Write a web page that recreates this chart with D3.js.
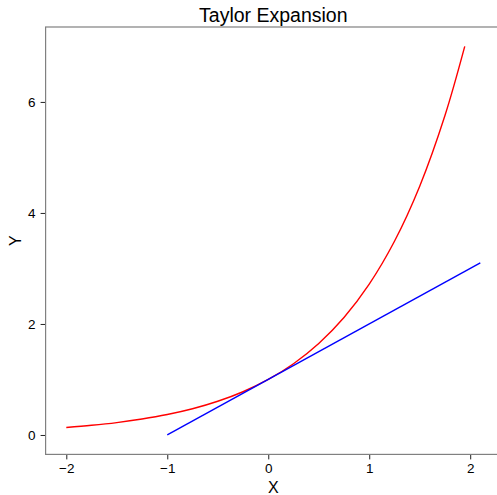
<!DOCTYPE html>
<html>
<head>
<meta charset="utf-8">
<script src="https://cdn.jsdelivr.net/npm/d3@7"></script>
<style>
  body { margin: 0; background: #fff; }
  svg { display: block; font-family: "Liberation Sans", Arial, sans-serif; }
</style>
</head>
<body>
<div id="chart"></div>
<script>
// values
const expX = [-2, -1.75, -1.5, -1.25, -1, -0.75, -0.5, -0.25, 0, 0.25, 0.5, 0.75, 1, 1.25, 1.5, 1.75, 1.946];
const expY = [0.135, 0.174, 0.223, 0.287, 0.368, 0.472, 0.607, 0.779, 1.0, 1.284, 1.649, 2.117, 2.718, 3.49, 4.482, 5.755, 7.0];
const tangentX = [-1, 2.1];
const tangentY = [0, 3.1];
const xTicks = [-2, -1, 0, 1, 2];
const yTicks = [0, 2, 4, 6];

const width = 497, height = 495;
// panel box (right edge falls just outside the window)
const margin = { top: 27, right: -4, bottom: 40.6, left: 45.6 };
const innerW = width - margin.left - margin.right,
      innerH = height - margin.top - margin.bottom;

const svg = d3.select("#chart").append("svg")
    .attr("width", width)
    .attr("height", height);

const g = svg.append("g")
    .attr("transform", `translate(${margin.left},${margin.top})`);

// 5% padding on each side like the original
const x = d3.scaleLinear().domain([-2.205, 2.305]).range([0, innerW]);
const y = d3.scaleLinear().domain([-0.35, 7.35]).range([innerH, 0]);

const fmt = d => d < 0 ? "\u2212" + Math.abs(d) : String(d);

// axes
const xAxis = g.append("g")
    .attr("transform", `translate(0,${innerH})`)
    .call(d3.axisBottom(x).tickValues(xTicks).tickSize(5).tickPadding(4).tickFormat(fmt));
const yAxis = g.append("g")
    .call(d3.axisLeft(y).tickValues(yTicks).tickSize(5).tickPadding(5).tickFormat(fmt));

[xAxis, yAxis].forEach(a => {
    a.select(".domain").remove();
    a.selectAll(".tick line").attr("stroke", "#222");
    a.selectAll(".tick text")
        .attr("fill", "#000")
        .attr("font-size", "13.5px")
        .attr("font-family", "'Liberation Sans', Arial, sans-serif");
});

// panel border
g.append("rect")
    .attr("x", 0)
    .attr("y", 0)
    .attr("width", innerW)
    .attr("height", innerH)
    .attr("fill", "none")
    .attr("stroke", "#808080")
    .attr("stroke-width", 1.2);

const line = d3.line()
    .x(d => x(d[0]))
    .y(d => y(d[1]));

// e^x curve
g.append("path")
    .datum(d3.zip(expX, expY))
    .attr("d", line.curve(d3.curveCatmullRom))
    .attr("fill", "none")
    .attr("stroke", "#ff0000")
    .attr("stroke-width", 1.4);

// tangent line at 0
g.append("path")
    .datum(d3.zip(tangentX, tangentY))
    .attr("d", d3.line().x(d => x(d[0])).y(d => y(d[1]))(d3.zip(tangentX, tangentY)))
    .attr("fill", "none")
    .attr("stroke", "#0000ff")
    .attr("stroke-width", 1.4);

// titles
svg.append("text")
    .attr("x", margin.left + innerW / 2)
    .attr("y", 22)
    .attr("text-anchor", "middle")
    .attr("font-size", "19.5px")
    .text("Taylor Expansion");

svg.append("text")
    .attr("x", margin.left + innerW / 2)
    .attr("y", 493)
    .attr("text-anchor", "middle")
    .attr("font-size", "16px")
    .text("X");

svg.append("text")
    .attr("transform", `translate(21,${margin.top + innerH / 2}) rotate(-90)`)
    .attr("text-anchor", "middle")
    .attr("font-size", "16px")
    .text("Y");
</script>
</body>
</html>
